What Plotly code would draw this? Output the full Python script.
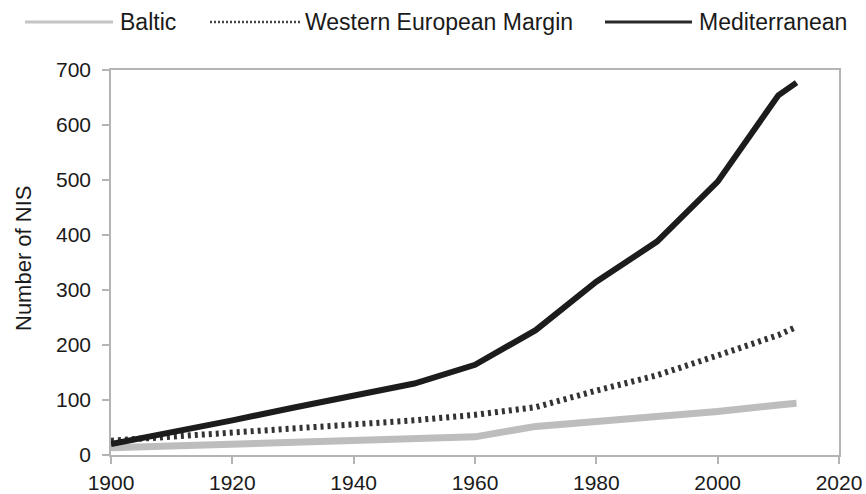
import plotly.graph_objects as go

years = [1900, 1910, 1920, 1930, 1940, 1950, 1960, 1970, 1980, 1990, 2000, 2010, 2013]
baltic = [13, 16, 19, 22, 25, 28, 33, 52, 60, 69, 79, 91, 94]
wem = [26, 33, 40, 48, 55, 63, 73, 87, 117, 145, 181, 218, 233]
med = [20, 41, 63, 86, 108, 130, 164, 227, 315, 388, 497, 654, 677]

series_names = ["Baltic", "Western European Margin", "Mediterranean"]
x_ticks = [1900, 1920, 1940, 1960, 1980, 2000, 2020]
y_ticks = [0, 100, 200, 300, 400, 500, 600, 700]

W, H = 866, 494
L, R, T, B = 111, 27, 70, 39
PW, PH = W - L - R, H - T - B

def px(x):
    return (x - L) / PW

def py(y):
    return (H - B - y) / PH

FONT = "Liberation Sans, Arial, sans-serif"

styles = [
    dict(color="#bdbdbd", width=7),
    dict(color="#333333", width=6, dash="3px,4px"),
    dict(color="#1c1c1c", width=6),
]

fig = go.Figure()
for name, vals, st in zip(series_names, [baltic, wem, med], styles):
    fig.add_trace(go.Scatter(x=years, y=vals, mode="lines", name=name,
                             line=st, showlegend=False))

# manual legend at top
legend_items = [
    (25, 113, 118, dict(color="#c4c4c4", width=3)),
    (210, 300, 303, dict(color="#444444", width=2.5, dash="2px,2px")),
    (605, 692, 697, dict(color="#2a2a2a", width=3)),
]
shapes = []
annotations = []
for name, (x0, x1, tx, ln) in zip(series_names, legend_items):
    shapes.append(dict(type="line", xref="paper", yref="paper",
                       x0=px(x0), x1=px(x1), y0=py(22), y1=py(22), line=ln))
    annotations.append(dict(text=name, xref="paper", yref="paper",
                            x=px(tx), y=py(22), xanchor="left", yanchor="middle",
                            showarrow=False,
                            font=dict(family=FONT, size=23, color="#1a1a1a")))

annotations.append(dict(text="Number of NIS", xref="paper", yref="paper",
                        x=px(23), y=py(258), xanchor="center", yanchor="middle",
                        textangle=-90, showarrow=False,
                        font=dict(family=FONT, size=22, color="#1a1a1a")))

axis_common = dict(showgrid=False, zeroline=False, showline=True, linecolor="#b4b4b4",
                   linewidth=1.5, mirror=True, ticks="outside", tickcolor="#b4b4b4",
                   ticklen=7, tickwidth=1.5, automargin=False,
                   tickfont=dict(family=FONT, size=21, color="#1a1a1a"))

fig.update_layout(
    width=W, height=H,
    margin=dict(l=L, r=R, t=T, b=B),
    paper_bgcolor="white", plot_bgcolor="white",
    showlegend=False,
    shapes=shapes,
    annotations=annotations,
    xaxis=dict(range=[1900, 2020], tickvals=x_ticks, ticklabelstandoff=1, **axis_common),
    yaxis=dict(range=[0, 700], tickvals=y_ticks, ticklabelstandoff=7, **axis_common),
)

fig.write_html("out.html", config={"displayModeBar": False},
               post_script="document.body.style.margin='0px';document.body.style.overflow='hidden';")
